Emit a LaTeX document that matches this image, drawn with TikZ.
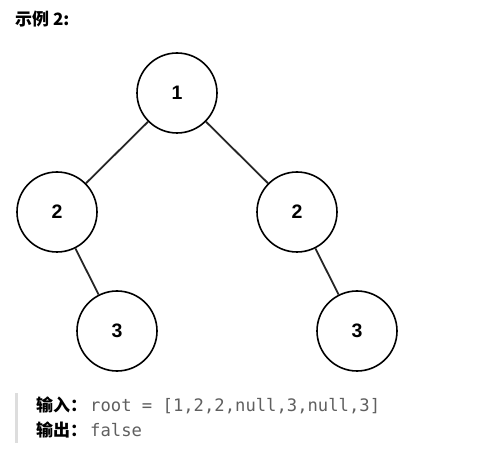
\documentclass[tikz,border=0pt]{standalone}
\usepackage{fontspec}
\setmainfont{Liberation Sans}
\setmonofont{DejaVu Sans Mono}
\newfontfamily\cjk{Noto Sans CJK SC}
\definecolor{codegray}{RGB}{95,95,95}
\definecolor{bargray}{RGB}{221,221,221}
\begin{document}
\begin{tikzpicture}[x=1pt,y=-1pt,
  treenode/.style={circle,draw=black,line width=1.6pt,minimum size=80pt,inner sep=0pt,font=\bfseries\fontsize{19.5}{21}\selectfont},
  edge/.style={draw=black!85,line width=1.8pt},
  label/.style={anchor=base west,inner sep=0pt,font=\cjk\bfseries\fontsize{17}{19}\selectfont},
  code/.style={anchor=base west,inner sep=0pt,text=codegray,font=\ttfamily\fontsize{17.2}{19}\selectfont}]
\useasboundingbox (0,0) rectangle (504,465);
\node[label] (title) at (15,26) {示例 2:};
\node[treenode] (n1) at (177,93) {1};
\node[treenode] (n2l) at (57,212) {2};
\node[treenode] (n2r) at (297,212) {2};
\node[treenode] (n3l) at (117,331) {3};
\node[treenode] (n3r) at (357,331) {3};
\draw[edge] (n1) -- (n2l);
\draw[edge] (n1) -- (n2r);
\draw[edge] (n2l) -- (n3l);
\draw[edge] (n2r) -- (n3r);
\fill[bargray] (15,393) rectangle (17.5,443);
\node[label] (in) at (36,411) {输入：};
\node[code] (incode) at (90,411) {root = [1,2,2,null,3,null,3]};
\node[label] (out) at (36,436) {输出：};
\node[code] (outcode) at (90,436) {false};
\end{tikzpicture}
\end{document}
